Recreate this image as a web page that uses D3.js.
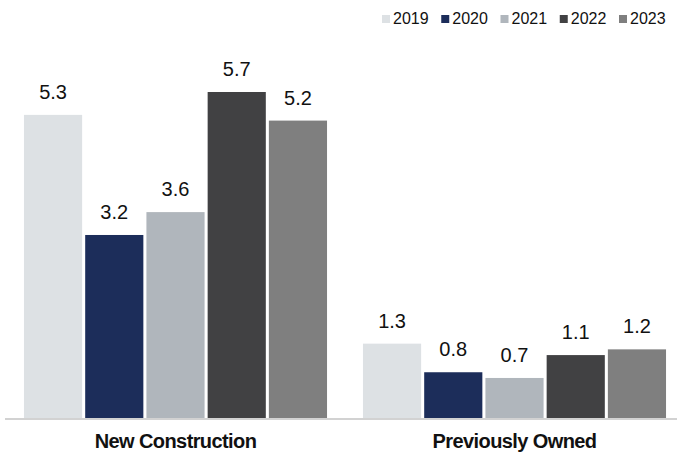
<!DOCTYPE html>
<html><head><meta charset="utf-8">
<script src="https://cdn.jsdelivr.net/npm/d3@7"></script>
<style>body{margin:0;background:#fff}svg{display:block;font-family:"Liberation Sans",Arial,Helvetica,sans-serif}</style>
</head><body><div id="chart"></div>
<script>
const categories = ["New Construction", "Previously Owned"];
const years = ["2019", "2020", "2021", "2022", "2023"];
const values2019 = [5.3, 1.3];
const values2020 = [3.2, 0.8];
const values2021 = [3.6, 0.7];
const values2022 = [5.7, 1.1];
const values2023 = [5.2, 1.2];
const colors = ["#dde1e4", "#1c2d5a", "#b0b6bc", "#414143", "#7f7f7f"];

const series = [values2019, values2020, values2021, values2022, values2023];
const W = 677, H = 463;
const svg = d3.select("#chart").append("svg").attr("width", W).attr("height", H);

const x0 = d3.scaleBand().domain(categories).range([6, 684]).paddingInner(0.106).paddingOuter(0.053);
const x1 = d3.scaleBand().domain(years).range([0, x0.bandwidth()]).paddingInner(0.05);
const y = d3.scaleLinear().domain([0, 5.7]).range([418, 92]);
const color = d3.scaleOrdinal().domain(years).range(colors);

const groups = svg.selectAll("g.grp").data(categories).join("g")
  .attr("class", "grp").attr("transform", c => `translate(${x0(c)},0)`);

groups.each(function(c, ci) {
  const g = d3.select(this);
  const rows = years.map((yr, i) => ({ yr, v: series[i][ci] }));
  g.selectAll("rect").data(rows).join("rect")
    .attr("x", d => x1(d.yr)).attr("width", x1.bandwidth())
    .attr("y", d => y(d.v)).attr("height", d => y(0) - y(d.v))
    .attr("fill", d => color(d.yr));
  g.selectAll("text").data(rows).join("text")
    .attr("x", d => x1(d.yr) + x1.bandwidth() / 2)
    .attr("y", d => y(d.v) - 16)
    .attr("text-anchor", "middle").attr("font-size", 20).attr("fill", "#111")
    .text(d => d.v.toFixed(1));
});

// baseline axis
svg.append("line").attr("x1", 5).attr("x2", 677).attr("y1", 419).attr("y2", 419)
  .attr("stroke", "#a6a6a6").attr("stroke-width", 1.2);

// category labels
const xAxis = d3.axisBottom(x0).tickSize(0).tickPadding(0);
const ax = svg.append("g").attr("transform", "translate(0,434)").call(xAxis);
ax.select(".domain").remove();
ax.selectAll("text").attr("font-size", 20).attr("font-weight", "bold")
  .attr("letter-spacing", "-0.6px")
  .attr("fill", "#111").attr("font-family", "'Liberation Sans', Arial, sans-serif")
  .attr("dy", "0.72em");

// legend
const legendX = d3.scalePoint().domain(years).range([382, 619]);
const lg = svg.append("g").selectAll("g").data(years).join("g")
  .attr("transform", d => `translate(${legendX(d)},15)`);
lg.append("rect").attr("width", 8).attr("height", 8).attr("fill", d => color(d));
lg.append("text").attr("x", 11).attr("y", 8.5).attr("font-size", 16).attr("fill", "#111").text(d => d);
</script></body></html>
